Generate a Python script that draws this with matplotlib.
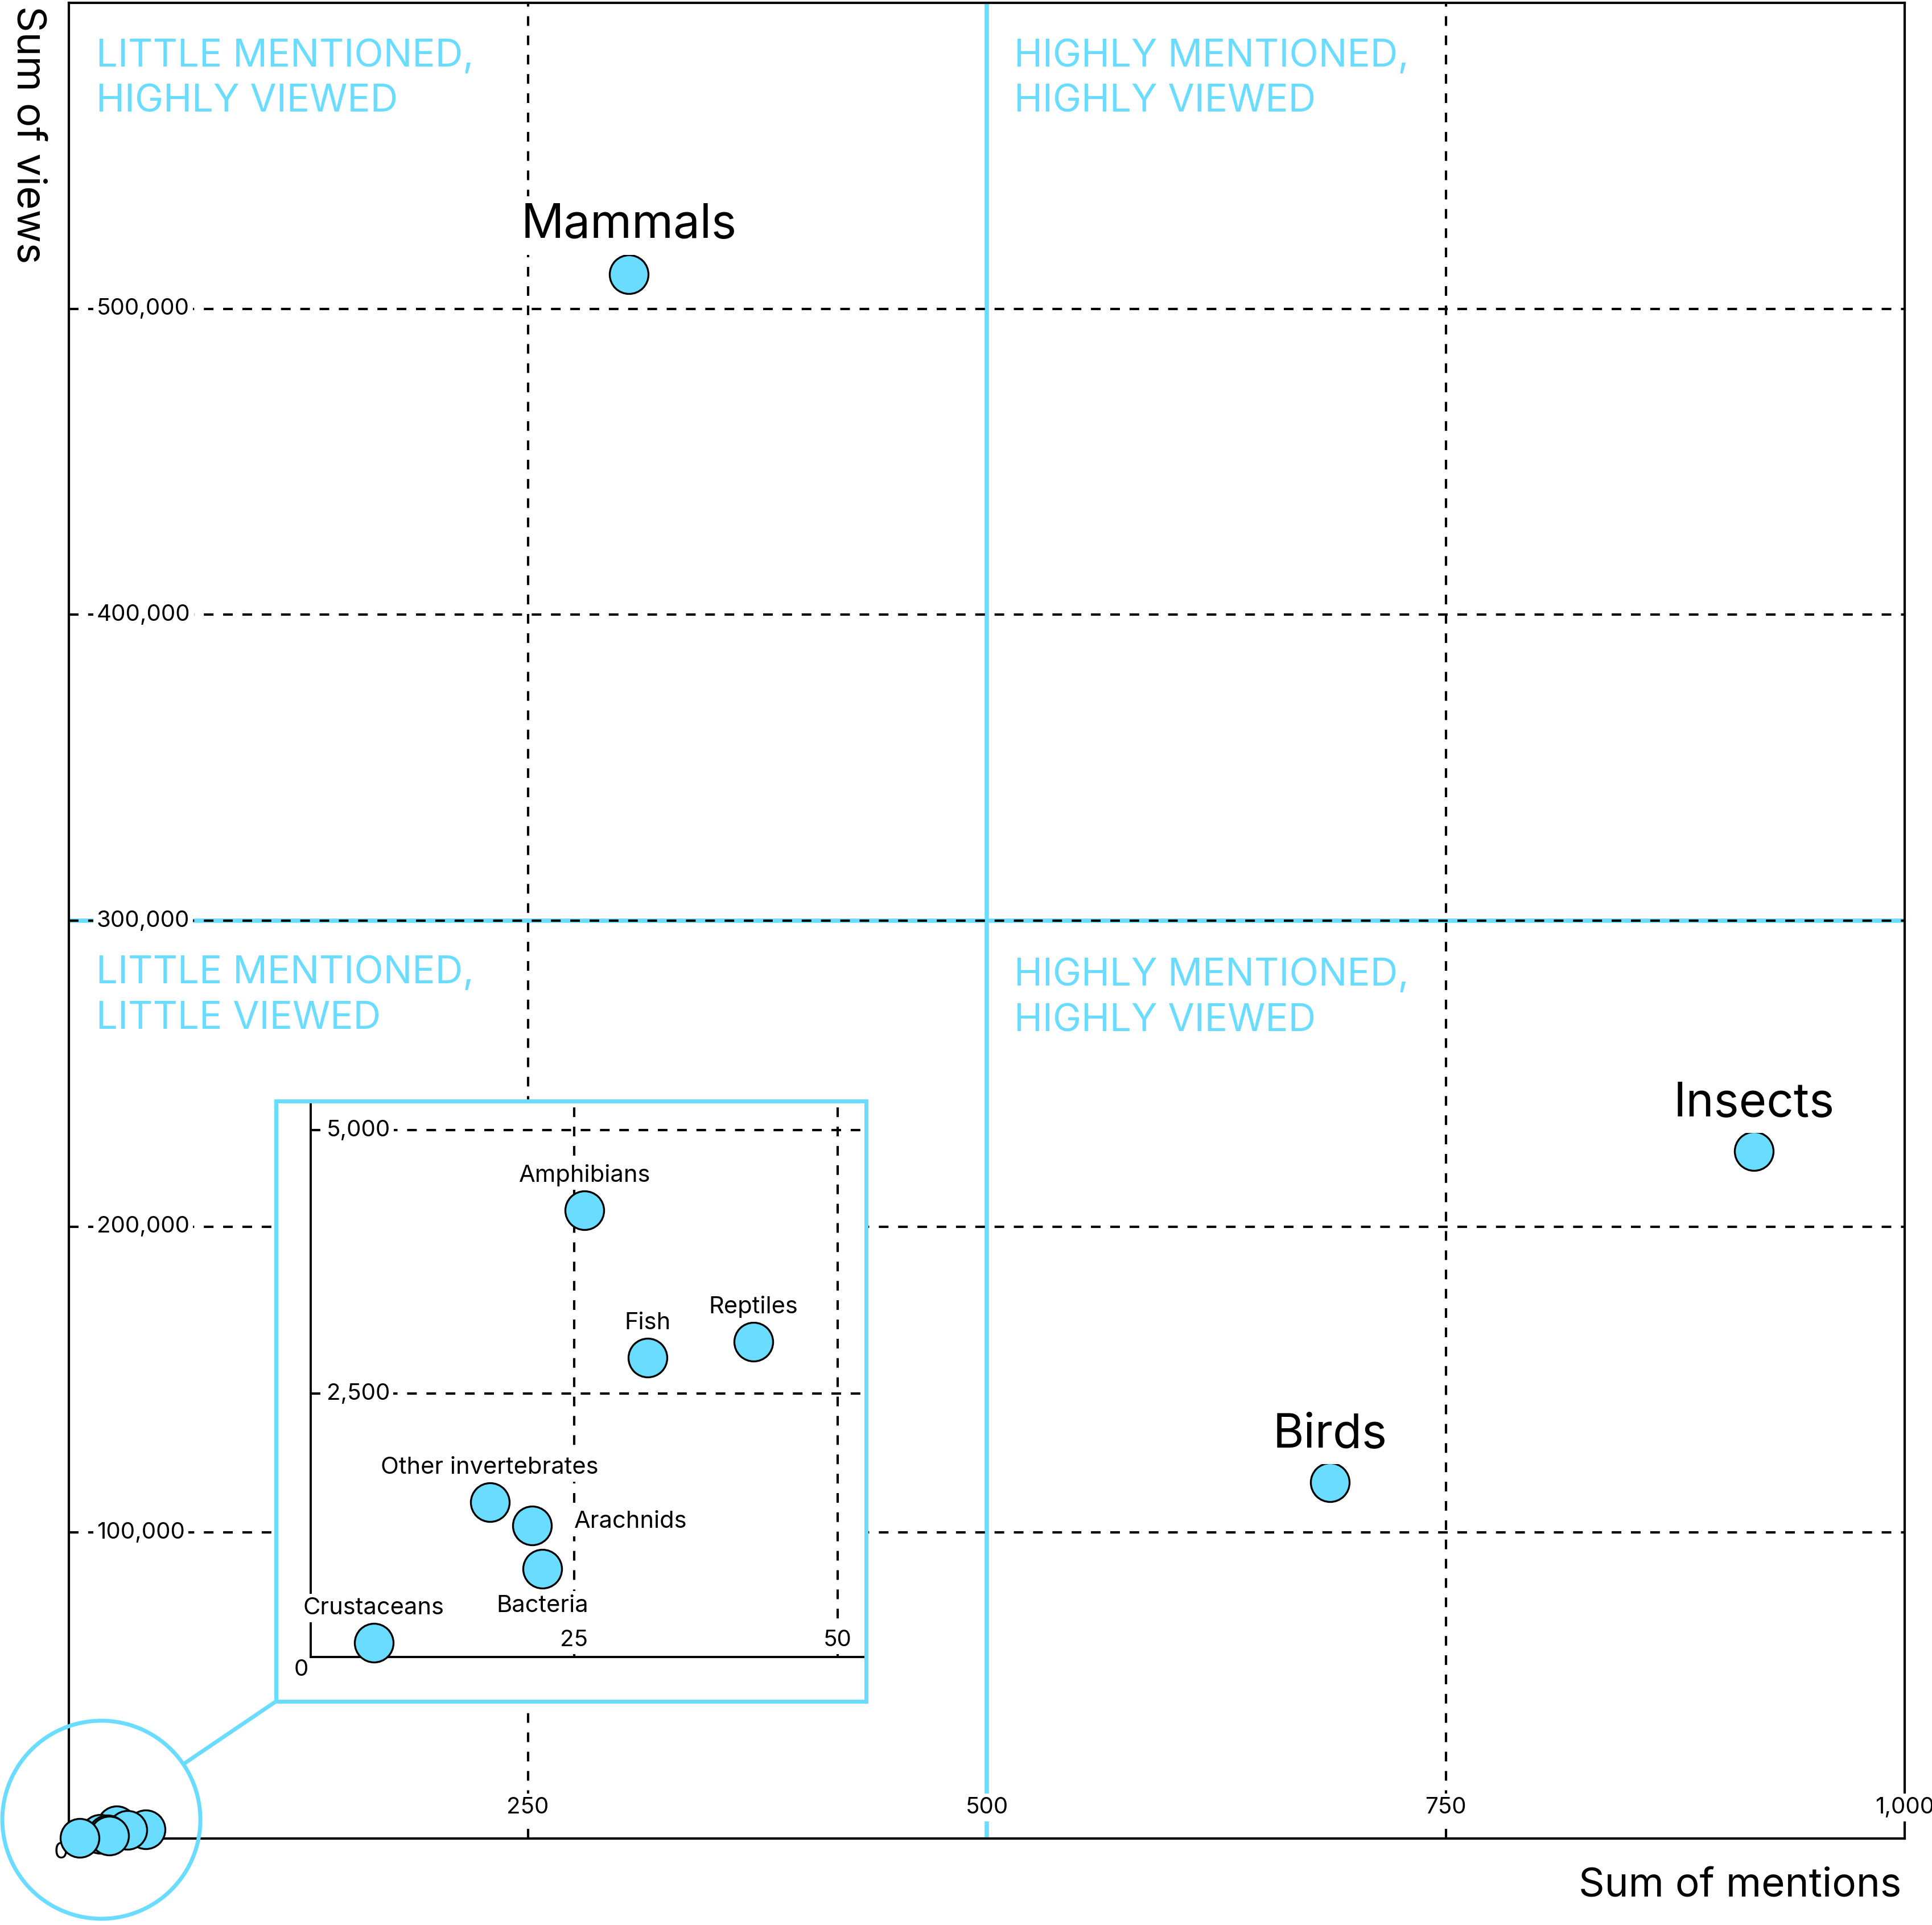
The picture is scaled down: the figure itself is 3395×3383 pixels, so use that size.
import matplotlib
matplotlib.use("Agg")
import matplotlib.pyplot as plt
from matplotlib import transforms
from matplotlib.patches import Circle, Rectangle, ConnectionPatch

plt.rcParams['font.family'] = ['Inter', 'DejaVu Sans']
plt.rcParams['lines.scale_dashes'] = False

CYAN = '#69DCFF'
DASH = (0, (6.1, 6.1))

# --- data ---
groups = ["Mammals", "Insects", "Birds", "Amphibians", "Reptiles", "Fish",
          "Other invertebrates", "Arachnids", "Bacteria", "Crustaceans"]
mentions = [305, 918, 687, 26, 42, 32, 17, 21, 22, 6]
views = [511300, 224700, 116500, 4240, 2990, 2840, 1470, 1250, 840, 135]

x_ticks = [250, 500, 750, 1000]
y_ticks = [100000, 200000, 300000, 400000, 500000]
inset_x_ticks = [25, 50]
inset_y_ticks = [2500, 5000]

split_x = 500
split_y = 300000
inset_max_views = 10000

quadrant_texts = ["LITTLE MENTIONED,\nHIGHLY VIEWED",
                  "HIGHLY MENTIONED,\nHIGHLY VIEWED",
                  "LITTLE MENTIONED,\nLITTLE VIEWED",
                  "HIGHLY MENTIONED,\nHIGHLY VIEWED"]

# --- layout / style ---
# anchor = baseline of the last line
quadrant_pos = [(15, 564300), (515, 564300), (15, 264650), (515, 263900)]
# label offsets in points: (dx, dy, ha, va)
label_style = {
    "Mammals": (0, 23, 'center', 'baseline'),
    "Insects": (0, 22, 'center', 'baseline'),
    "Birds": (0, 22, 'center', 'baseline'),
    "Amphibians": (0, 18, 'center', 'baseline'),
    "Reptiles": (0, 18, 'center', 'baseline'),
    "Fish": (0, 18, 'center', 'baseline'),
    "Other invertebrates": (0, 18, 'center', 'baseline'),
    "Arachnids": (26.6, 2.3, 'left', 'center'),
    "Bacteria": (0, -27.4, 'center', 'baseline'),
    "Crustaceans": (0, 18, 'center', 'baseline'),
}

W, H, DPI = 3395, 3383, 200
fig = plt.figure(figsize=(W / DPI, H / DPI), dpi=DPI)

white_box = dict(boxstyle='square,pad=0.15', fc='white', ec='none')

# main axes
ax = fig.add_axes([121 / W, (H - 3231) / H, 3226 / W, 3226 / H])
ax.set_xlim(0, 1000)
ax.set_ylim(0, 600000)
ax.set_xticks([])
ax.set_yticks([])
for sp in ax.spines.values():
    sp.set_linewidth(1.5)

for t in x_ticks[:-1]:
    ax.axvline(t, color='black', lw=1.5, ls=DASH, zorder=1)
ax.axvline(split_x, color=CYAN, lw=2.7, zorder=1.2)
ax.axhline(split_y, color=CYAN, lw=2.7, zorder=1.3)
for t in y_ticks:
    ax.axhline(t, color='black', lw=1.5, ls=DASH, zorder=1.4)

for t in y_ticks:
    ax.annotate(f"{t:,}", xy=(0, t), xytext=(17.6, 0), textcoords='offset points',
                ha='left', va='center', fontsize=14.5, bbox=white_box, zorder=4)
for t in x_ticks:
    ax.annotate(f"{t:,}", xy=(t, 0), xytext=(0, 19.5), textcoords='offset points',
                ha='center', va='center', fontsize=14.5, bbox=white_box, zorder=4,
                annotation_clip=False)
ax.annotate("0", xy=(0, 0), xytext=(-5, -9), textcoords='offset points',
            ha='center', va='center', fontsize=14.5, zorder=2, annotation_clip=False)

for txt, (qx, qy) in zip(quadrant_texts, quadrant_pos):
    ax.text(qx, qy, txt, color=CYAN, fontsize=24.2, ha='left', va='baseline',
            linespacing=1.34, zorder=3)

ax.scatter(mentions, views, s=600, c=CYAN, edgecolors='black', linewidths=1.2,
           zorder=5, clip_on=False)

for g, m, v in zip(groups, mentions, views):
    if v >= inset_max_views:
        dx, dy, ha, va = label_style[g]
        ax.annotate(g, xy=(m, v), xytext=(dx, dy), textcoords='offset points',
                    ha=ha, va=va, fontsize=30, bbox=white_box, zorder=6)

fig.text(48 / W, 1 - 10 / H, "Sum of views", rotation=270, ha='center', va='top',
         fontsize=25.6)
fig.text(3341 / W, 1 - 3315 / H, "Sum of mentions", ha='right', va='center',
         fontsize=25.6)

# inset (zoom on the crowded corner)
ax_in = fig.add_axes([485 / W, (H - 2990) / H, 1037 / W, 1055 / H])
in_xlim = (-3.28, 52.71)
in_ylim = (-420.7, 5277)
ax_in.set_xlim(*in_xlim)
ax_in.set_ylim(*in_ylim)
ax_in.set_xticks([])
ax_in.set_yticks([])
ax_in.spines['top'].set_visible(False)
ax_in.spines['right'].set_visible(False)
ax_in.spines['left'].set_position(('data', 0))
ax_in.spines['bottom'].set_position(('data', 0))
ax_in.spines['left'].set_bounds(0, in_ylim[1])
ax_in.spines['bottom'].set_bounds(0, in_xlim[1])
for s in ('left', 'bottom'):
    ax_in.spines[s].set_linewidth(1.4)

ax_in.vlines(inset_x_ticks, 0, in_ylim[1], color='black', lw=1.5, linestyles=DASH, zorder=1)
ax_in.hlines(inset_y_ticks, 0, in_xlim[1], color='black', lw=1.5, linestyles=DASH, zorder=1)

for t in inset_y_ticks:
    ax_in.annotate(f"{t:,}", xy=(0, t), xytext=(10, 0), textcoords='offset points',
                   ha='left', va='center', fontsize=14.5, bbox=white_box, zorder=4)
for t in inset_x_ticks:
    ax_in.annotate(f"{t:,}", xy=(t, 0), xytext=(0, 10.8), textcoords='offset points',
                   ha='center', va='center', fontsize=14.5, bbox=white_box, zorder=4)
ax_in.annotate("0", xy=(0, 0), xytext=(-6, -8), textcoords='offset points',
               ha='center', va='center', fontsize=14.5, zorder=2)

small = [(g, m, v) for g, m, v in zip(groups, mentions, views) if v < inset_max_views]
ax_in.scatter([m for _, m, _ in small], [v for _, _, v in small], s=600, c=CYAN,
              edgecolors='black', linewidths=1.2, zorder=5)
for g, m, v in small:
    dx, dy, ha, va = label_style[g]
    ax_in.annotate(g, xy=(m, v), xytext=(dx, dy), textcoords='offset points',
                   ha=ha, va=va, fontsize=15, bbox=white_box, zorder=6)

ax_in.add_patch(Rectangle((0, 0), 1, 1, transform=ax_in.transAxes, fill=False,
                          edgecolor=CYAN, lw=2.5, clip_on=False, zorder=10))

# magnifier circle around the origin + connector to the inset
circle_center = (17.7, 6137)
ring_trans = fig.dpi_scale_trans + transforms.ScaledTranslation(
    circle_center[0], circle_center[1], ax.transData)
ring = Circle((0, 0), 0.87, transform=ring_trans, fill=False, edgecolor=CYAN,
              lw=2.5, clip_on=False)
fig.add_artist(ring)
con = ConnectionPatch(xyA=circle_center, coordsA=ax.transData, xyB=(0, 0),
                      coordsB=ax_in.transAxes, patchA=ring, shrinkA=0, shrinkB=0,
                      arrowstyle='-', color=CYAN, lw=2.5)
fig.add_artist(con)

fig.savefig("out.png", dpi=DPI, facecolor='white')
